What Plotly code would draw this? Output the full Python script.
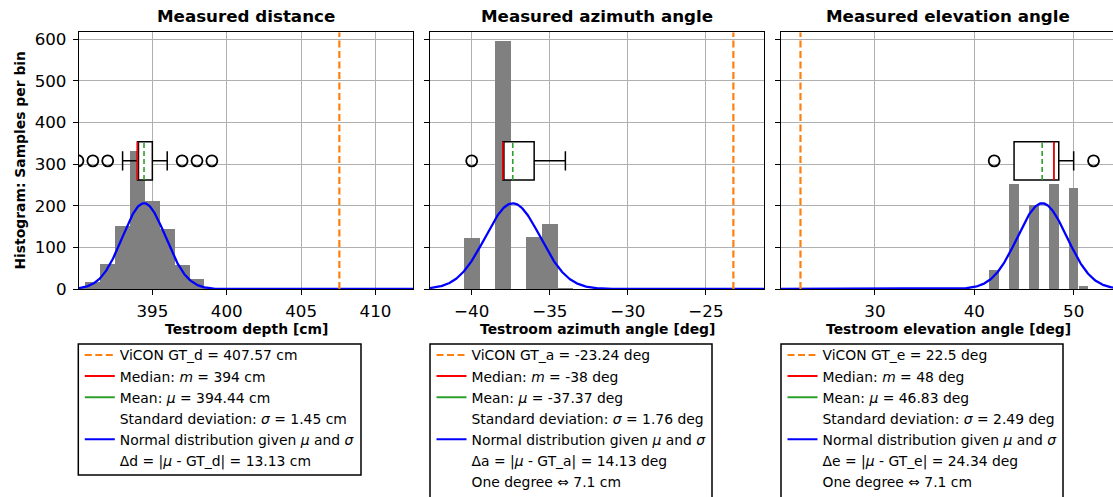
import numpy as np
import plotly.graph_objects as go

# ---------------- data ----------------
titles = ["Measured distance", "Measured azimuth angle", "Measured elevation angle"]
xlabels = ["Testroom depth [cm]", "Testroom azimuth angle [deg]", "Testroom elevation angle [deg]"]
ylabel = "Histogram: Samples per bin"

dist_bins = [390, 391, 392, 393, 394, 395, 396, 397, 398, 399]
dist_counts = [1, 17, 60, 150, 330, 210, 143, 58, 23, 1]
azim_bins = [-40, -38, -36, -35, -34]
azim_counts = [122, 596, 124, 156, 1]
elev_bins = [42, 44, 46, 48, 50, 51]
elev_counts = [44, 252, 200, 252, 243, 7]

gt = [407.57, -23.24, 22.5]
mu = [394.44, -37.37, 46.83]
sigma = [1.45, 1.76, 2.49]
median = [394, -38, 48]
q1 = [394, -38, 44]
q3 = [395, -36, 48.5]
lowerfence = [393, -38, 44]
upperfence = [396, -34, 50]
outliers = [[390, 391, 392, 397, 398, 399], [-40], [42, 52]]
curve_peak = [206, 206, 206]

box_pos = 308
box_height = 92

x_ranges = [[390.07, 412.54], [-42.67, -21.26], [20.54, 53.96]]
x_ticks = [[395, 400, 405, 410], [-40, -35, -30, -25], [30, 40, 50]]
x_ticktext = [["395", "400", "405", "410"], ["\u221240", "\u221235", "\u221230", "\u221225"], ["30", "40", "50"]]
y_range = [0, 617]
y_ticks = [0, 100, 200, 300, 400, 500, 600]

legend_texts = [
    ["ViCON GT_d = 407.57 cm", "Median: <i>m</i> = 394 cm", "Mean: <i>\u03bc</i> = 394.44 cm",
     "Standard deviation: <i>\u03c3</i> = 1.45 cm", "Normal distribution given <i>\u03bc</i> and <i>\u03c3</i>",
     "\u0394d = |<i>\u03bc</i> - GT_d| = 13.13 cm"],
    ["ViCON GT_a = -23.24 deg", "Median: <i>m</i> = -38 deg", "Mean: <i>\u03bc</i> = -37.37 deg",
     "Standard deviation: <i>\u03c3</i> = 1.76 deg", "Normal distribution given <i>\u03bc</i> and <i>\u03c3</i>",
     "\u0394a = |<i>\u03bc</i> - GT_a| = 14.13 deg", "One degree \u21d4 7.1 cm"],
    ["ViCON GT_e = 22.5 deg", "Median: <i>m</i> = 48 deg", "Mean: <i>\u03bc</i> = 46.83 deg",
     "Standard deviation: <i>\u03c3</i> = 2.49 deg", "Normal distribution given <i>\u03bc</i> and <i>\u03c3</i>",
     "\u0394e = |<i>\u03bc</i> - GT_e| = 24.34 deg", "One degree \u21d4 7.1 cm"],
]

hist_bins = [dist_bins, azim_bins, elev_bins]
hist_counts = [dist_counts, azim_counts, elev_counts]
bar_widths = [1.0, 1.0, 0.97]

# ---------------- layout geometry ----------------
W, H = 1113, 497
FONT = "DejaVu Sans"
x_domains = [[79 / W, 413.3 / W], [430 / W, 764.3 / W], [781 / W, 1.0]]
y_domain = [(H - 289) / H, (H - 32.3) / H]
centers_px = [246.2, 597.2, 948.2]
legend_frames_px = [[78.3, 361, 344, 475], [430, 712, 344, 520], [781, 1063, 344, 520]]

ORANGE = "#ff7f0e"
RED = "#ff0000"
GREEN = "#2ca02c"
BLUE = "#0000ff"
GRAY = "#808080"

fig = go.Figure()
legend_names = ["legend", "legend2", "legend3"]

for i in range(3):
    xa = "x" if i == 0 else f"x{i+1}"
    ya = "y" if i == 0 else f"y{i+1}"
    lg = legend_names[i]
    # histogram bars
    fig.add_trace(go.Bar(x=hist_bins[i], y=hist_counts[i], width=bar_widths[i],
                         marker=dict(color=GRAY, line=dict(width=0)),
                         xaxis=xa, yaxis=ya, showlegend=False, hoverinfo="skip"))
    # normal curve
    xs = np.linspace(x_ranges[i][0], x_ranges[i][1], 500)
    ys = curve_peak[i] * np.exp(-0.5 * ((xs - mu[i]) / sigma[i]) ** 2)
    fig.add_trace(go.Scatter(x=xs, y=ys, mode="lines", line=dict(color=BLUE, width=2.3),
                             xaxis=xa, yaxis=ya, showlegend=False, hoverinfo="skip"))
    # GT line
    fig.add_trace(go.Scatter(x=[gt[i], gt[i]], y=y_range, mode="lines",
                             line=dict(color=ORANGE, width=2.2, dash="7px,3.5px"),
                             xaxis=xa, yaxis=ya, showlegend=False, hoverinfo="skip"))
    # box
    fig.add_trace(go.Box(orientation="h", y=[box_pos], q1=[q1[i]], median=[median[i]], q3=[q3[i]],
                         lowerfence=[lowerfence[i]], upperfence=[upperfence[i]],
                         width=box_height, whiskerwidth=0.5, boxpoints=False,
                         fillcolor="white", line=dict(color="black", width=1.5),
                         xaxis=xa, yaxis=ya, showlegend=False, hoverinfo="skip"))
    # outliers
    fig.add_trace(go.Scatter(x=outliers[i], y=[box_pos] * len(outliers[i]), mode="markers",
                             marker=dict(symbol="circle-open", size=11, color="black",
                                         line=dict(width=1.8, color="black")),
                             xaxis=xa, yaxis=ya, showlegend=False, hoverinfo="skip"))
    # median and mean lines
    yb = [box_pos - box_height / 2, box_pos + box_height / 2]
    fig.add_trace(go.Scatter(x=[median[i], median[i]], y=yb, mode="lines",
                             line=dict(color=RED, width=1.6),
                             xaxis=xa, yaxis=ya, showlegend=False, hoverinfo="skip"))
    fig.add_trace(go.Scatter(x=[mu[i], mu[i]], y=yb, mode="lines",
                             line=dict(color=GREEN, width=1.6, dash="5px,3px"),
                             xaxis=xa, yaxis=ya, showlegend=False, hoverinfo="skip"))

    # legend entries
    styles = [dict(color=ORANGE, width=2, dash="7px,3.5px"), dict(color=RED, width=2),
              dict(color=GREEN, width=2), dict(color="rgba(0,0,0,0)", width=2),
              dict(color=BLUE, width=2), dict(color="rgba(0,0,0,0)", width=2),
              dict(color="rgba(0,0,0,0)", width=2)]
    for k, txt in enumerate(legend_texts[i]):
        fig.add_trace(go.Scatter(x=[None], y=[None], mode="lines", line=styles[k], name=txt,
                                 legend=lg, xaxis=xa, yaxis=ya, hoverinfo="skip"))

layout = dict(
    width=W, height=H, margin=dict(l=0, r=0, t=0, b=0, autoexpand=False),
    paper_bgcolor="white", plot_bgcolor="white",
    font=dict(family=FONT, color="black"),
    bargap=0, barmode="overlay",
)
shapes = []
for i in range(3):
    sx = "" if i == 0 else str(i + 1)
    layout["xaxis" + sx] = dict(
        domain=x_domains[i], range=x_ranges[i], anchor="y" + sx,
        tickvals=x_ticks[i], ticktext=x_ticktext[i],
        showgrid=True, gridcolor="#b0b0b0", gridwidth=1,
        showline=True, linecolor="black", linewidth=1.3, mirror=True,
        ticks="outside", ticklen=5, tickwidth=1.2, tickcolor="black",
        tickfont=dict(size=16.7, family=FONT, color="black"), zeroline=False,
        ticklabelstandoff=2,
    )
    layout["yaxis" + sx] = dict(
        domain=y_domain, range=y_range, anchor="x" + sx,
        tickvals=y_ticks, showticklabels=(i == 0),
        showgrid=True, gridcolor="#b0b0b0", gridwidth=1,
        showline=True, linecolor="black", linewidth=1.3, mirror=(i < 2),
        ticks="outside", ticklen=5, tickwidth=1.2, tickcolor="black",
        tickfont=dict(size=16.7, family=FONT, color="black"), zeroline=False,
        ticklabelstandoff=3,
    )
    fx0, fx1, fy0, fy1 = legend_frames_px[i]
    layout[legend_names[i]] = dict(
        x=(fx0 + 1.5) / W, y=(H - fy0 + 4.5) / H, xanchor="left", yanchor="top",
        borderwidth=0, bgcolor="rgba(0,0,0,0)", traceorder="normal",
        font=dict(size=13.9, family=FONT, color="black"),
    )
    shapes.append(dict(type="rect", xref="paper", yref="paper",
                       x0=fx0 / W, x1=fx1 / W, y0=(H - fy1) / H, y1=(H - fy0) / H,
                       line=dict(color="black", width=1.5), fillcolor="white", layer="below"))

annotations = []
for i in range(3):
    annotations.append(dict(text="<b>" + titles[i] + "</b>", x=centers_px[i] / W, y=(H - 16) / H,
                            xref="paper", yref="paper", showarrow=False, xanchor="center", yanchor="middle",
                            font=dict(size=16.7, family=FONT, color="black")))
    annotations.append(dict(text="<b>" + xlabels[i] + "</b>", x=centers_px[i] / W, y=(H - 329) / H,
                            xref="paper", yref="paper", showarrow=False, xanchor="center", yanchor="middle",
                            font=dict(size=13.9, family=FONT, color="black")))
annotations.append(dict(text="<b>" + ylabel + "</b>", x=20 / W, y=(H - 160.6) / H, textangle=-90,
                        xref="paper", yref="paper", showarrow=False, xanchor="center", yanchor="middle",
                        font=dict(size=13.9, family=FONT, color="black")))
layout["annotations"] = annotations
layout["shapes"] = shapes
fig.update_layout(**layout)

fig.write_html("out.html")
